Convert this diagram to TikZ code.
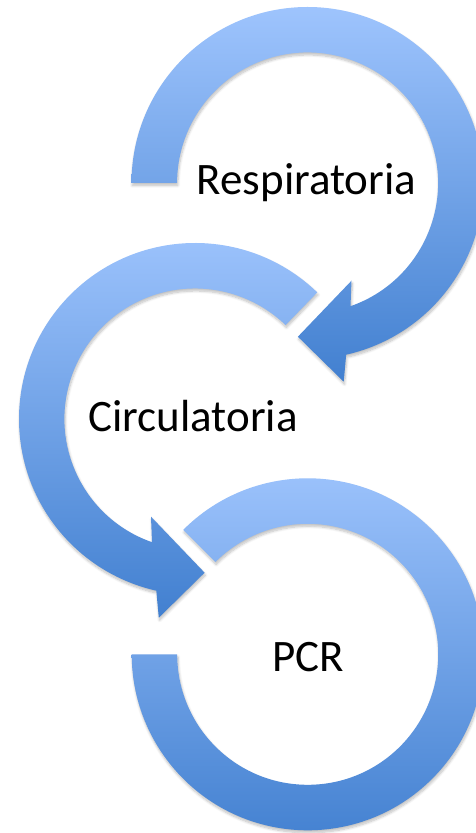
\documentclass[tikz,border=0pt]{standalone}
\usepackage{fontspec}
\setmainfont{Carlito}
\usetikzlibrary{shadows.blur}
\definecolor{arrowtop}{RGB}{158,196,253}
\definecolor{arrowbot}{RGB}{66,128,208}
\tikzset{
  ringarrow/.style={top color=arrowtop, bottom color=arrowbot, draw=none,
    blur shadow={shadow xshift=0.8pt, shadow yshift=-2.5pt, shadow blur steps=8,
      shadow blur radius=2.5pt, shadow opacity=25}},
  steptext/.style={anchor=base, inner sep=0pt, text=black,
    font=\fontsize{45}{52}\selectfont}
}
\begin{document}
\begin{tikzpicture}[x=1pt,y=1pt]
\useasboundingbox (0,0) rectangle (476,833);
\clip (0,0) rectangle (476,833);
% arrow 1 (top)
\begin{scope}[shift={(307.5,650)}]
\path[ringarrow] (-176,0) arc[start angle=180,end angle=-77.3,radius=176]
  -- (36.2,-198.7) -- (-9.6,-153.7) -- (44,-97.7) -- (43,-123.2)
  arc[start angle=-70.8,end angle=180,radius=130.5] -- cycle;
\end{scope}
% arrow 2 (middle)
\begin{scope}[shift={(195,414)}]
\path[ringarrow] (46:176) arc[start angle=46,end angle=257.3,radius=176]
  -- (-36.2,-198.7) -- (9.6,-153.7) -- (-44,-97.7) -- (-43,-123.2)
  arc[start angle=250.8,end angle=46,radius=130.5] -- cycle;
\end{scope}
% arrow 3 (bottom)
\begin{scope}[shift={(307.7,178.7)}]
\path[ringarrow] (135:176) arc[start angle=135,end angle=-180,radius=176]
  -- (-130.5,0) arc[start angle=-180,end angle=135,radius=130.5] -- cycle;
\end{scope}
\node[steptext] (resp) at (306.5,638) {Respiratoria};
\node[steptext] (circ) at (193,401) {Circulatoria};
\node[steptext] (pcr) at (308.5,161) {PCR};
\end{tikzpicture}
\end{document}
